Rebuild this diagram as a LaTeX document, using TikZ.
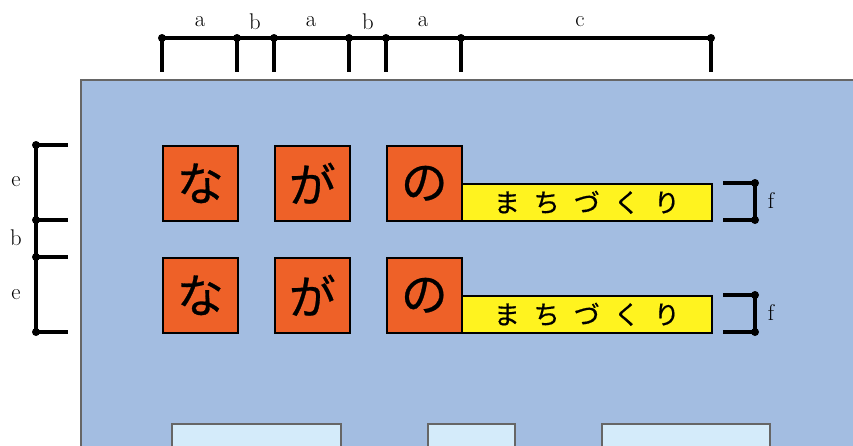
\documentclass[tikz,border=0pt]{standalone}
\usepackage{fontspec}
\newfontfamily\jp[FakeBold=0.6]{Noto Sans CJK JP}
\definecolor{panelfill}{HTML}{A3BDE1}
\definecolor{panelline}{HTML}{666666}
\definecolor{kanafill}{HTML}{EE6128}
\definecolor{barfill}{HTML}{FFF31F}
\definecolor{lowfill}{HTML}{D4EBFA}
\tikzset{
  dimline/.style={line width=2.3pt,black},
  dimdot/.style={circle,fill=black,inner sep=0pt,minimum size=6pt},
  dimlabel/.style={font=\fontsize{17}{17}\selectfont,inner sep=0pt},
  kana/.style={draw=black,line width=1.2pt,fill=kanafill,anchor=north west,
    minimum width=56.25pt,minimum height=56.25pt,inner sep=0pt,
    font=\jp\fontsize{35}{35}\selectfont},
  bar/.style={draw=black,line width=1.2pt,fill=barfill,anchor=north west,
    minimum width=187.5pt,minimum height=27.75pt,inner sep=0pt,
    font=\jp\fontsize{19.5}{19.5}\selectfont},
  lowbox/.style={draw=panelline,line width=1.6pt,fill=lowfill},
}
\newcommand\spacedword{ま\hspace{10.5pt}ち\hspace{10.5pt}づ\hspace{10.5pt}く\hspace{10.5pt}り}
\begin{document}
\begin{tikzpicture}[x=0.75pt,y=-0.75pt]
\clip (0,0) rectangle (853,446);
\fill[white] (0,0) rectangle (853,446);
% panel
\draw[draw=panelline,fill=panelfill,line width=2pt] (81,80) rectangle (880,470);
% lower boxes
\draw[lowbox] (172,424) rectangle (341,470);
\draw[lowbox] (428,424) rectangle (515,470);
\draw[lowbox] (602,424) rectangle (770,470);
% kana boxes
\foreach \r/\y in {1/145,2/257}{
  \node[kana] (na\r) at (162,\y) {な};
  \node[kana] (ga\r) at (274,\y) {が};
  \node[kana] (no\r) at (386,\y) {の};
}
\node[bar] (bar1) at (461,183) {\spacedword};
\node[bar] (bar2) at (461,295) {\spacedword};
% top dimension
\foreach \i/\x in {1/162,2/237,3/274,4/349,5/386,6/461,7/711}{
  \coordinate (t\i) at (\x,38);
  \coordinate (tb\i) at (\x,72);
  \draw[dimline] (t\i) -- (tb\i);
}
\draw[dimline] (t1) -- (t7);
\foreach \i in {1,...,7}{\node[dimdot] (td\i) at (t\i) {};}
\node[dimlabel] (la1) at (200,22) {a};
\node[dimlabel] (lb1) at (255,22) {b};
\node[dimlabel] (la2) at (311,22) {a};
\node[dimlabel] (lb2) at (368,22) {b};
\node[dimlabel] (la3) at (423,22) {a};
\node[dimlabel] (lc) at (580,22) {c};
% left dimension
\foreach \i/\y in {1/145,2/220,3/257,4/332}{
  \coordinate (l\i) at (36,\y);
  \coordinate (lr\i) at (68,\y);
  \draw[dimline] (l\i) -- (lr\i);
}
\draw[dimline] (l1) -- (l4);
\foreach \i in {1,...,4}{\node[dimdot] (ld\i) at (l\i) {};}
\node[dimlabel] (le1) at (16,182) {e};
\node[dimlabel] (lb3) at (16,238) {b};
\node[dimlabel] (le2) at (16,295) {e};
% f brackets
\foreach \r/\ya/\yb in {1/183/220,2/295/332}{
  \coordinate (fa\r) at (755,\ya);
  \coordinate (fb\r) at (755,\yb);
  \draw[dimline] (723,\ya) -- (fa\r) -- (fb\r) -- (723,\yb);
  \node[dimdot] (fda\r) at (fa\r) {};
  \node[dimdot] (fdb\r) at (fb\r) {};
}
\node[dimlabel] (lf1) at (771,201) {f};
\node[dimlabel] (lf2) at (771,313) {f};
\end{tikzpicture}
\end{document}
